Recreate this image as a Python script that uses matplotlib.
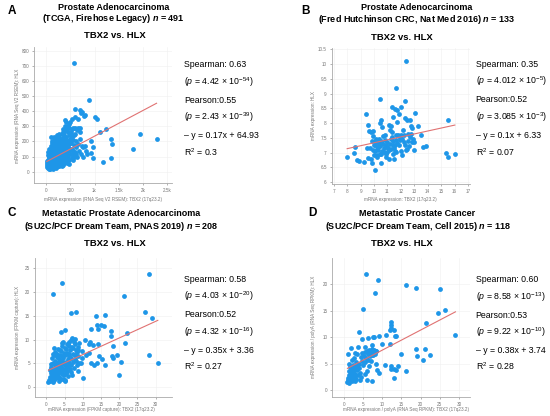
import matplotlib
matplotlib.use("Agg")
import matplotlib.pyplot as plt
import numpy as np

plt.rcParams['font.family'] = ['Liberation Sans', 'DejaVu Sans']
plt.rcParams['mathtext.fontset'] = 'custom'
plt.rcParams['mathtext.rm'] = 'Liberation Sans'
plt.rcParams['mathtext.it'] = 'Liberation Sans:italic'
plt.rcParams['mathtext.bf'] = 'Liberation Sans:bold'
plt.rcParams['mathtext.bfit'] = 'Liberation Sans:italic:bold'

# ---- panel A: TCGA, Firehose Legacy ----
tcga_x = [15, 22, 28, 35, 40, 45, 50, 55, 60, 62, 68, 72, 78, 80, 85, 90, 95, 98, 30, 52, 75, 18, 88, 42, 65,
          105, 110, 115, 120, 125, 130, 135, 140, 145, 150, 155, 160, 165, 170, 175, 180, 185, 190, 195, 198,
          108, 118, 128, 138, 148, 158, 168, 178, 188, 196, 112, 142, 172, 182, 132,
          205, 210, 215, 220, 225, 230, 235, 240, 245, 250, 255, 260, 265, 270, 275, 280, 285, 290, 295, 298,
          208, 218, 228, 238, 248, 258, 268, 278, 288, 212, 232, 252, 272, 292, 262,
          305, 310, 315, 320, 325, 330, 335, 340, 345, 350, 355, 360, 365, 370, 375, 380, 385, 390, 395, 398,
          312, 332, 342, 362, 372, 382, 352, 322, 388, 368,
          405, 410, 415, 420, 425, 430, 435, 440, 445, 450, 455, 460, 465, 470, 475, 480, 485, 490, 495, 498,
          412, 432, 452, 472, 488, 418, 444, 462,
          505, 512, 520, 528, 535, 542, 550, 558, 565, 572, 580, 590, 600, 610, 618, 530, 548, 562, 585, 605,
          625, 635, 645, 655, 665, 680, 695, 710, 725, 740, 755, 700,
          582, 877, 589, 705, 747, 1007, 1048, 1247, 1123, 1945, 2281, 1349, 1370, 1788, 1178, 1336,
          959, 849, 918, 973, 822, 767, 808, 932, 658, 774, 808, 726, 589, 534, 384, 473, 96]
tcga_y = [30, 45, 60, 25, 80, 38, 55, 100, 20, 70, 120, 42, 88, 28, 62, 140, 50, 105, 110, 150, 18, 72, 35, 130, 95,
          30, 75, 145, 55, 190, 100, 35, 160, 80, 120, 230, 45, 200, 90, 140, 65, 175, 110, 25, 210,
          170, 95, 60, 125, 185, 70, 150, 40, 130, 85, 205, 20, 115, 210, 80,
          50, 140, 95, 185, 60, 240, 120, 160, 35, 205, 80, 130, 250, 100, 170, 55, 215, 145, 90, 190,
          225, 110, 165, 75, 145, 195, 40, 120, 85, 30, 200, 110, 230, 60, 165,
          100, 180, 60, 250, 130, 210, 80, 160, 285, 115, 45, 195, 140, 240, 90, 170, 120, 270, 65, 205,
          145, 35, 225, 100, 180, 300, 260, 190, 150, 55,
          120, 230, 80, 180, 290, 140, 55, 200, 110, 260, 165, 95, 240, 135, 290, 75, 190, 215, 150, 330,
          280, 100, 205, 50, 250, 330, 300, 175,
          120, 190, 260, 90, 285, 150, 210, 110, 290, 175, 240, 130, 290, 200, 160, 230, 75, 140, 95, 250,
          120, 275, 100, 180, 290, 140, 215, 260, 120, 170, 95, 290,
          720, 477, 416, 406, 397, 362, 351, 282, 260, 250, 219, 217, 184, 150, 65, 91,
          89, 115, 124, 165, 137, 161, 169, 202, 347, 369, 373, 391, 365, 351, 343, 317, 232]

# ---- panel B: Fred Hutchinson CRC ----
fh_x = [8.0, 8.62, 8.54, 8.72, 8.86, 9.25, 9.43, 9.57, 9.48, 9.60, 9.72, 9.57, 9.77, 9.87, 9.97, 10.04,
        9.79, 9.92, 9.94, 10.04, 10.11, 10.19, 10.21, 10.36, 10.26, 10.43, 10.53, 10.46, 10.50, 10.46,
        10.63, 10.28, 10.55, 10.68, 10.80, 10.90, 10.77, 10.97, 10.92, 11.04, 11.12, 11.24, 11.17, 11.31,
        11.34, 11.41, 11.51, 11.14, 11.49, 11.66, 11.34, 11.53, 11.71, 11.85, 11.44, 11.75, 11.66, 11.64,
        11.80, 11.90, 11.83, 11.66, 12.02, 12.29, 12.39, 12.15, 12.20, 12.02, 12.12, 12.25, 12.05, 12.34,
        12.49, 12.69, 12.51, 12.56, 12.66, 12.74, 12.83, 12.78, 12.81, 12.44, 12.42, 12.64, 13.08, 13.25,
        12.93, 13.0, 13.0, 13.47, 13.67, 13.86, 15.33, 15.48, 15.53, 16.02,
        10.0, 10.1, 10.15, 10.3, 10.35, 10.45, 10.5, 10.6, 10.7, 10.75, 10.85, 10.95, 11.0, 11.1, 11.2,
        11.3, 11.4, 11.55, 11.6, 11.7, 9.9, 9.85, 10.25, 10.55, 10.9, 11.25, 11.45, 12.3, 12.0, 11.95]
fh_y = [6.84, 7.17, 6.98, 6.75, 6.70, 6.68, 8.30, 7.94, 7.15, 7.73, 7.16, 6.82, 6.78, 6.63, 6.93, 6.41,
        7.70, 7.72, 7.56, 7.38, 7.27, 7.35, 7.13, 7.47, 6.93, 6.96, 6.66, 8.82, 8.09, 8.0,
        7.86, 7.20, 7.36, 7.55, 7.61, 7.25, 7.03, 7.02, 6.84, 7.15, 7.95, 7.90, 7.77, 7.68,
        7.53, 7.27, 7.16, 6.78, 6.78, 9.19, 8.54, 8.48, 8.45, 8.31, 8.20, 8.03, 7.61, 7.43,
        7.61, 7.44, 7.24, 7.01, 8.53, 8.76, 10.10, 7.78, 7.61, 7.58, 7.47, 7.37, 6.93, 8.18,
        8.11, 8.11, 7.63, 7.38, 7.51, 7.63, 7.83, 7.90, 7.36, 7.13, 7.08, 7.21, 8.34, 7.90,
        7.45, 7.36, 7.09, 7.61, 7.20, 7.22, 6.99, 6.85, 8.09, 6.95,
        7.25, 7.05, 7.45, 7.1, 7.3, 7.22, 7.4, 7.05, 7.3, 7.15, 7.42, 7.2, 7.35, 7.08, 7.28,
        7.12, 7.38, 7.25, 7.05, 7.32, 7.1, 7.4, 6.85, 6.95, 6.95, 7.45, 6.95, 7.25, 7.05, 7.5]

# ---- panel C: SU2C/PCF PNAS 2019 ----
pnas_x = [1.93, 4.4, 28.1, 21.2, 6.8, 8.1, 13.6, 16.1, 27.0, 29.0, 12.2, 14.3, 15.0, 15.8, 14.0, 17.7, 22.2,
          17.8, 21.6, 18.2, 14.1, 12.8, 12.1, 10.6, 18.0, 18.2, 19.3, 20.6, 20.0, 28.3, 30.6, 14.0, 15.4,
          14.5, 16.0, 12.2, 13.1, 11.6, 10.0, 11.7, 9.1, 7.9, 7.0, 6.2, 4.0, 5.0, 5.9, 4.2, 7.3, 7.9, 8.8,
          9.7, 9.7, 10.8, 9.4, 8.5, 5.0,
          0.6, 0.8, 1.0, 1.1, 1.2, 1.3, 1.4, 1.5, 1.6, 1.7, 1.8, 1.9, 2.0, 0.9, 1.5, 1.8, 1.2, 2.0, 1.0, 1.6,
          2.1, 2.2, 2.3, 2.4, 2.5, 2.6, 2.7, 2.8, 2.9, 3.0, 3.1, 3.2, 3.3, 3.4, 3.5, 2.2, 2.5, 2.8, 3.1, 3.4,
          2.0, 2.7, 3.0, 3.3, 2.4,
          3.6, 3.7, 3.8, 3.9, 4.0, 4.1, 4.2, 4.3, 4.4, 4.5, 4.6, 4.7, 4.8, 4.9, 5.0, 3.6, 4.0, 4.4, 4.8, 3.8,
          4.2, 4.6, 5.0, 3.9, 4.5,
          5.1, 5.2, 5.3, 5.4, 5.5, 5.6, 5.7, 5.8, 5.9, 6.0, 6.1, 6.2, 6.3, 6.4, 6.5, 5.2, 5.6, 6.0, 6.3, 5.4,
          6.6, 6.7, 6.8, 6.9, 7.0, 7.2, 7.4, 7.6, 7.8, 8.0, 8.2, 8.4, 8.6, 8.8, 9.0, 7.1, 7.5, 8.1, 8.7, 6.8]
pnas_y = [19.7, 22.0, 23.9, 19.3, 15.7, 15.9, 15.0, 15.2, 15.9, 14.5, 12.3, 12.3, 13.0, 12.9, 13.0, 11.9, 11.4,
          10.7, 9.3, 8.6, 9.1, 8.9, 9.5, 10.0, 6.5, 6.1, 6.8, 5.3, 2.6, 6.8, 5.0, 5.1, 5.9,
          6.5, 4.7, 5.1, 4.6, 7.2, 2.0, 9.0, 9.3, 10.2, 10.3, 9.5, 11.7, 12.0, 9.2, 9.3, 8.2, 6.8, 7.9,
          7.7, 6.2, 6.8, 5.1, 4.7, 1.3,
          1.1, 1.6, 2.2, 1.3, 3.0, 2.0, 4.2, 1.5, 2.6, 3.5, 1.2, 5.1, 2.3, 3.6, 6.2, 7.0, 4.8, 1.8, 1.5, 3.1,
          3.9, 1.6, 5.6, 2.8, 7.5, 4.4, 1.9, 3.3, 6.3, 2.5, 4.9, 8.1, 3.7, 1.4, 5.3, 6.8, 3.0, 4.0, 2.1, 6.0,
          8.2, 5.0, 7.0, 2.9, 4.6,
          2.2, 4.3, 6.8, 3.1, 5.6, 7.6, 2.7, 4.8, 8.7, 3.6, 6.2, 1.8, 5.0, 7.2, 3.9, 5.1, 3.4, 6.5, 2.6, 7.8,
          4.1, 5.4, 8.3, 1.7, 9.5,
          4.6, 6.7, 2.9, 8.0, 5.3, 3.5, 7.3, 4.2, 6.0, 2.4, 8.6, 5.0, 7.0, 3.8, 5.9, 1.6, 9.0, 4.5, 6.5, 3.3,
          7.8, 4.6, 6.2, 3.2, 8.4, 5.3, 7.0, 4.0, 6.0, 9.0, 5.5, 7.5, 3.5, 6.6, 5.0, 2.6, 9.5, 7.9, 8.5, 10.0]

# ---- panel D: SU2C/PCF Cell 2015 ----
cell_x = [5.65, 8.96, 8.17, 4.87, 16.1, 18.8, 25.0, 24.5, 26.3, 29.1, 21.3, 12.4, 12.4, 12.4, 12.0, 13.1,
          13.4, 13.7, 10.9, 9.2, 7.9, 7.5, 6.2, 4.7, 4.0, 1.74, 3.74, 5.57, 7.2, 9.9, 12.0, 7.7, 8.3, 15.0,
          18.7, 19.0, 21.2, 20.7, 22.4, 12.3, 12.3, 13.1, 13.6, 14.1, 16.2, 13.1, 10.7, 9.1, 8.3, 8.5, 7.4,
          4.3, 6.0, 2.9,
          0.9, 1.0, 1.1, 1.2, 1.3, 1.4, 1.5, 1.6, 1.0, 1.2, 1.8, 1.9, 2.0, 2.1, 2.2, 2.3, 2.4, 2.5, 2.6, 2.7,
          2.8, 2.9, 3.0, 3.1, 3.2, 3.3, 3.4, 3.5, 3.6, 3.8, 4.0, 4.2, 4.4, 4.6, 4.8, 5.0, 5.2, 5.4, 5.6, 5.8,
          6.0, 6.2, 6.4, 6.6, 6.8, 7.0, 7.2, 7.4, 7.6, 7.8, 8.0, 8.2, 8.4, 6.5, 7.0, 3.0, 2.0, 5.5, 4.5, 6.0]
cell_y = [22.0, 20.8, 18.4, 15.3, 19.8, 19.4, 19.1, 14.6, 15.1, 10.5, 12.6, 12.9, 12.3, 11.8, 11.4, 11.4,
          10.2, 10.2, 10.4, 10.2, 10.1, 10.0, 9.8, 9.7, 11.0, 8.0, 8.2, 8.1, 8.5, 8.7, 8.65, 6.6, 7.3, 6.8,
          7.7, 6.5, 7.8, 5.6, 6.6, 4.5, 4.0, 4.0, 3.85, 4.5, 3.5, 2.2, 4.8, 3.2, 4.9, 3.8, 1.6,
          1.9, 1.8, 1.6,
          1.5, 2.2, 1.8, 2.8, 1.4, 3.6, 2.0, 4.3, 6.8, 5.0, 2.5, 3.2, 4.0, 1.7, 2.9, 3.5, 4.8, 2.3, 3.8, 6.0,
          2.7, 4.4, 3.1, 5.3, 2.1, 3.7, 4.6, 6.8, 2.8, 4.1, 5.0, 3.3, 6.2, 5.5, 7.0, 4.8, 6.5, 5.2, 7.2, 6.0,
          7.4, 5.6, 6.8, 7.6, 6.4, 7.1, 6.6, 7.8, 6.9, 7.5, 7.2, 6.8, 7.4, 4.5, 5.5, 7.0, 5.7, 3.0, 2.5, 3.5]

# regression lines (slope, intercept) as reported
fits = [(0.17, 64.93), (0.1, 6.33), (0.35, 3.36), (0.38, 3.74)]

letters = ['A', 'B', 'C', 'D']
title1 = ['Prostate Adenocarcinoma', 'Prostate Adenocarcinoma',
          'Metastatic Prostate Adenocarcinoma', 'Metastatic Prostate Cancer']
title2 = [r'(TCGA, Firehose Legacy) $\mathbfit{n}$ = 491',
          r'(Fred Hutchinson CRC, Nat Med 2016) $\mathbfit{n}$ = 133',
          r'(SU2C/PCF Dream Team, PNAS 2019) $\mathbfit{n}$ = 208',
          r'(SU2C/PCF Dream Team, Cell 2015) $\mathbfit{n}$ = 118']
stats = [['Spearman: 0.63', r'($p$ = 4.42 × 10$^{-54}$)', 'Pearson:0.55', r'($p$ = 2.43 × 10$^{-39}$)',
          '– y = 0.17x + 64.93', r'R$^2$ = 0.3'],
         ['Spearman: 0.35', r'($p$ = 4.012 × 10$^{-5}$)', 'Pearson:0.52', r'($p$ = 3.085 × 10$^{-3}$)',
          '– y = 0.1x + 6.33', r'R$^2$ = 0.07'],
         ['Spearman: 0.58', r'($p$ = 4.03 × 10$^{-20}$)', 'Pearson:0.52', r'($p$ = 4.32 × 10$^{-16}$)',
          '– y = 0.35x + 3.36', r'R$^2$ = 0.27'],
         ['Spearman: 0.60', r'($p$ = 8.58 × 10$^{-13}$)', 'Pearson:0.53', r'($p$ = 9.22 × 10$^{-10}$)',
          '– y = 0.38x + 3.74', r'R$^2$ = 0.28']]
xlabels = ['mRNA expression (RNA Seq V2 RSEM): TBX2 (17q23.2)', 'mRNA expression: TBX2 (17q23.2)',
           'mRNA expression (FPKM capture): TBX2 (17q23.2)',
           'mRNA expression / polyA (RNA Seq RPKM): TBX2 (17q23.2)']
ylabels = ['mRNA expression (RNA Seq V2 RSEM): HLX', 'mRNA expression: HLX',
           'mRNA expression (FPKM capture): HLX', 'mRNA expression / polyA (RNA Seq RPKM): HLX']
xticks = [[0, 500, 1000, 1500, 2000, 2500], list(range(7, 18)), [0, 5, 10, 15, 20, 25, 30], [0, 5, 10, 15, 20, 25, 30]]
xticklabels = [['0', '500', '1k', '1.5k', '2k', '2.5k'], None, None, None]
yticks = [list(range(0, 900, 100)), [6, 6.5, 7, 7.5, 8, 8.5, 9, 9.5, 10, 10.5], [0, 5, 10, 15, 20, 25], [0, 5, 10, 15, 20]]
yticklabels = [None, ['6', '6.5', '7', '7.5', '8', '8.5', '9', '9.5', '10', '10.5'], None, None]
xlims = [(-250, 2600), (6.85, 17.15), (-3.1, 34.5), (-3.05, 32.9)]
ylims = [(-75, 825), (5.93, 10.55), (-2.0, 27.2), (-1.4, 25.0)]
data = [(tcga_x, tcga_y), (fh_x, fh_y), (pnas_x, pnas_y), (cell_x, cell_y)]

W, H = 550, 416
fig = plt.figure(figsize=(W / 100, H / 100), dpi=100)

# layout in pixels: axes box (left, top, right, bottom)
boxes = [(34, 47, 172, 183), (331.7, 48, 470, 184), (35, 258, 172, 396.7), (332.3, 258, 470, 397.3)]
letter_pos = [(8, 11), (301, 11), (8, 213), (308, 213)]
t1_pos = [(113.5, 7), (417, 7), (121.3, 214), (417.5, 214)]
t2_pos = [(113.8, 18.5), (416.7, 19), (120.8, 227), (417.7, 227)]
t3_pos = [(114.5, 35), (402, 37.5), (114.7, 243), (401.8, 243)]
stat_x = [184, 475.5, 184, 475.5]
stat_y = [[64, 82, 100, 117, 135, 153], [64, 81.5, 99, 117, 135, 152.7],
          [279, 296.3, 314, 332, 349.7, 367.3], [279, 297.5, 314.7, 332.3, 350, 367.3]]
xlab_pos = [(103, 199), (400.5, 199), (101.3, 410), (406, 410)]
ylab_pos = [(18, 116), (314, 116), (18, 327), (314, 327)]


def fx(px):
    return px / W


def fy(py):
    return 1 - py / H


for i in range(4):
    l, t, r, b = boxes[i]
    ax = fig.add_axes([fx(l), fy(b), (r - l) / W, (b - t) / H])
    x, y = data[i]
    ax.scatter(x, y, s=12, color='#1E96E8', linewidths=0, zorder=3)
    m, c = fits[i]
    xs = np.array([min(x), max(x)])
    ax.plot(xs, m * xs + c, color='#E07272', lw=0.8, zorder=4)
    ax.set_xlim(*xlims[i])
    ax.set_ylim(*ylims[i])
    ax.set_xticks(xticks[i])
    if xticklabels[i]:
        ax.set_xticklabels(xticklabels[i])
    ax.set_yticks(yticks[i])
    if yticklabels[i]:
        ax.set_yticklabels(yticklabels[i])
    ax.tick_params(labelsize=3.3, colors='#777777', length=1.5, width=0.4, pad=2)
    ax.grid(color='#f0f0f0', lw=0.4, zorder=0)
    for s in ['top', 'right']:
        ax.spines[s].set_visible(False)
    for s in ['left', 'bottom']:
        ax.spines[s].set_color('#aaaaaa')
        ax.spines[s].set_linewidth(0.6)

    fig.text(fx(letter_pos[i][0]), fy(letter_pos[i][1]), letters[i], fontsize=8.5, fontweight='bold',
             ha='left', va='center')
    fig.text(fx(t1_pos[i][0]), fy(t1_pos[i][1]), title1[i], fontsize=6.5, fontweight='bold', ha='center', va='center')
    fig.text(fx(t2_pos[i][0]), fy(t2_pos[i][1]), title2[i], fontsize=6.5, fontweight='bold', ha='center', va='center')
    fig.text(fx(t3_pos[i][0]), fy(t3_pos[i][1]), 'TBX2 vs. HLX', fontsize=6.8, fontweight='bold',
             ha='center', va='center')
    for k, line in enumerate(stats[i]):
        fig.text(fx(stat_x[i]), fy(stat_y[i][k] + 3), line, fontsize=6.3, ha='left', va='baseline')
    fig.text(fx(xlab_pos[i][0]), fy(xlab_pos[i][1]), xlabels[i], fontsize=3.3, color='#777777',
             ha='center', va='center')
    fig.text(fx(ylab_pos[i][0]), fy(ylab_pos[i][1]), ylabels[i], fontsize=3.3, color='#777777',
             ha='center', va='center', rotation=90)

fig.savefig('out.png', dpi=100)
